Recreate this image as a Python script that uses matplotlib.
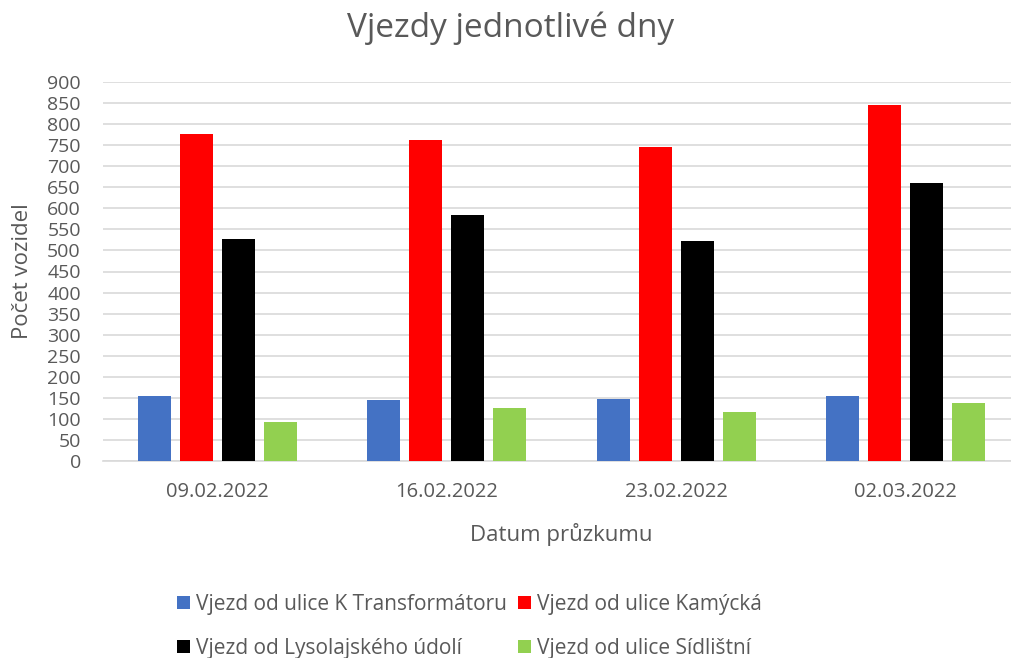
import matplotlib.pyplot as plt
import numpy as np

plt.rcParams['font.family'] = ['Open Sans', 'DejaVu Sans']

dates = ['09.02.2022', '16.02.2022', '23.02.2022', '02.03.2022']
series_names = ['Vjezd od ulice K Transformátoru', 'Vjezd od ulice Kamýcká',
                'Vjezd od Lysolajského údolí', 'Vjezd od ulice Sídlištní']
transformatoru = [154, 145, 147, 154]
kamycka = [777, 762, 745, 845]
lysolajske = [526, 585, 522, 659]
sidlistni = [93, 127, 117, 137]
colors = ['#4472c4', '#ff0000', '#000000', '#92d050']

values = [transformatoru, kamycka, lysolajske, sidlistni]
text_color = '#595959'

fig = plt.figure(figsize=(10.11, 6.58), dpi=100)
ax = fig.add_axes([103 / 1011, 1 - 461 / 658, 917 / 1011, (461 - 82) / 658])

x = np.arange(len(dates))
step = 0.183
width = 0.144
bars = []
for i, (vals, col) in enumerate(zip(values, colors)):
    b = ax.bar(x + (i - 1.5) * step, vals, width, color=col, label=series_names[i], zorder=3)
    bars.append(b)

ax.set_xlim(-0.5, 3.5)
ax.set_ylim(0, 900)
ax.set_yticks(np.arange(0, 901, 50))
ax.set_xticks(x)
ax.set_xticklabels(dates)
ax.grid(axis='y', color='#d9d9d9', linewidth=1.2, zorder=0)
for s in ['top', 'right', 'left']:
    ax.spines[s].set_visible(False)
ax.spines['bottom'].set_color('#d9d9d9')
ax.spines['bottom'].set_linewidth(1.2)
ax.tick_params(axis='y', length=0, labelsize=14, labelcolor=text_color, pad=16)
ax.tick_params(axis='x', length=0, labelsize=14.5, labelcolor=text_color, pad=15)

fig.text(511 / 1011, 1 - 28 / 658, 'Vjezdy jednotlivé dny', fontsize=24,
         color=text_color, ha='center', va='center')
ax.set_xlabel('Datum průzkumu', fontsize=16, color=text_color, labelpad=15)
ax.set_ylabel('Počet vozidel', fontsize=16, color=text_color, labelpad=10)

order = [0, 2, 1, 3]
leg = fig.legend([bars[i] for i in order], [series_names[i] for i in order],
                 ncol=2, loc='upper left', bbox_to_anchor=(177 / 1011, 1 - 594 / 658),
                 frameon=False, fontsize=15, handlelength=0.6, handleheight=0.6,
                 handletextpad=0.3, columnspacing=0.55, labelspacing=1.1,
                 borderpad=0, borderaxespad=0)
for t in leg.get_texts():
    t.set_color(text_color)

fig.savefig('out.png', dpi=100)
